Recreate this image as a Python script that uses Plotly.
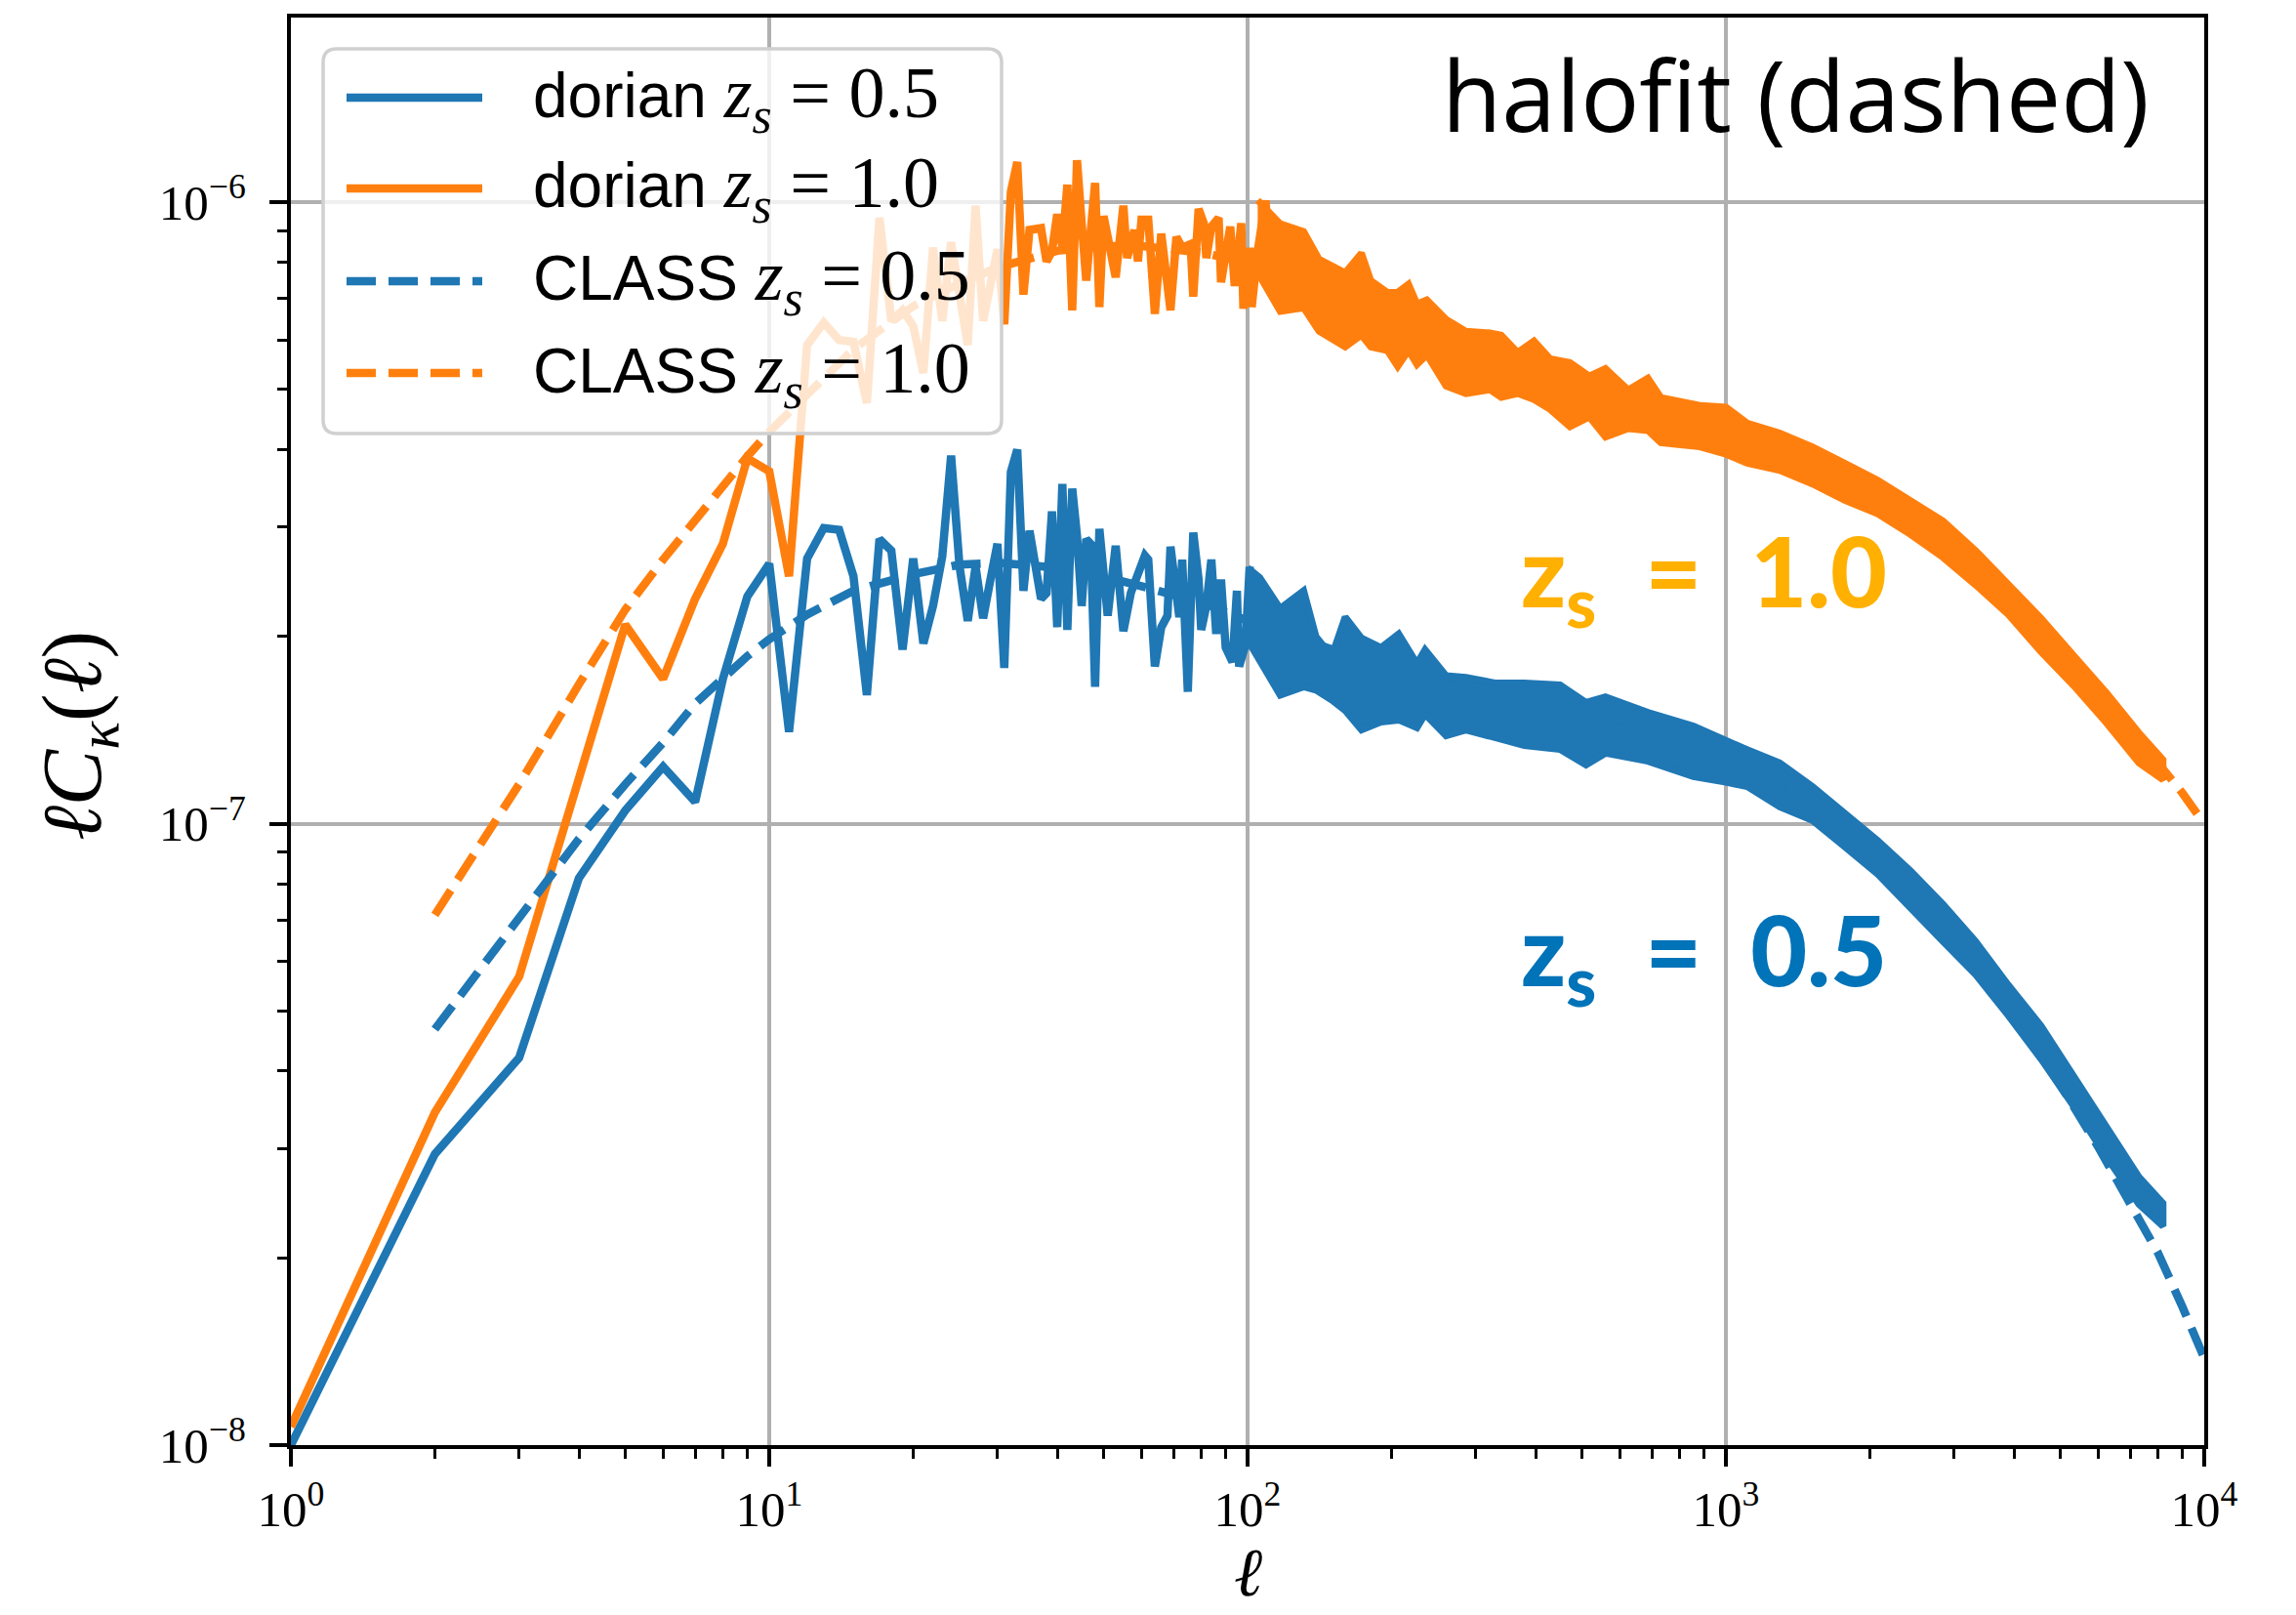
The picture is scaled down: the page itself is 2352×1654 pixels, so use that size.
import plotly.graph_objects as go

# ---------------------------------------------------------------------------
# Convergence power spectra  ell * C_kappa(ell)
# ---------------------------------------------------------------------------

# dorian, z_s = 0.5 : individual multipoles at low ell
ell_dorian_05 = [1, 2, 3, 4, 5, 6, 7, 8, 9, 10,
                 11, 12, 13, 14, 15, 16, 17, 18, 19, 20,
                 21, 22, 23, 24, 25, 26, 27, 28, 29, 30,
                 31, 32, 33, 34, 35, 36, 37, 38, 39, 40,
                 41, 42, 43, 44, 45, 46, 47, 48, 49, 51,
                 53, 55, 57, 61, 62, 64, 66, 68, 69, 72,
                 73, 75, 77, 79, 80, 82, 84, 86, 88, 90,
                 93, 95, 96, 99, 101, 103, 106, 108]
cl_dorian_05 = [1.0e-8, 2.94e-8, 4.2e-8, 8.17e-8, 1.05e-7, 1.235e-7, 1.084e-7, 1.71e-7, 2.32e-7, 2.62e-7,
                1.405e-7, 2.67e-7, 2.99e-7, 2.97e-7, 2.5e-7, 1.61e-7, 2.87e-7, 2.75e-7, 1.905e-7, 2.67e-7,
                1.95e-7, 2.24e-7, 2.69e-7, 3.91e-7, 2.59e-7, 2.12e-7, 2.59e-7, 2.14e-7, 2.47e-7, 2.82e-7,
                1.78e-7, 3.68e-7, 4.0e-7, 2.37e-7, 2.96e-7, 2.62e-7, 2.3e-7, 2.35e-7, 3.18e-7, 2.07e-7,
                3.52e-7, 2.05e-7, 3.46e-7, 2.9e-7, 2.24e-7, 2.87e-7, 2.82e-7, 1.66e-7, 2.98e-7, 2.16e-7,
                2.8e-7, 2.04e-7, 2.35e-7, 2.7e-7, 2.66e-7, 1.79e-7, 2.07e-7, 2.16e-7, 2.79e-7, 2.15e-7,
                2.66e-7, 1.63e-7, 2.94e-7, 2.47e-7, 2.05e-7, 2.24e-7, 2.66e-7, 2.02e-7, 2.47e-7, 1.92e-7,
                1.82e-7, 2.37e-7, 1.79e-7, 1.94e-7, 2.59e-7, 2.01e-7, 2.4e-7, 1.85e-7]

# dorian, z_s = 0.5 : upper / lower envelope of the dense scatter at high ell
ell_band_05 = [100, 106, 117, 131, 139, 150, 160, 173, 190, 207,
               226, 235, 260, 286, 329, 379, 450, 510, 560, 687,
               855, 1000, 1108, 1296, 1517, 1775, 2077, 2431, 2844, 3329,
               3894, 4558, 5333, 6240, 7303, 8200]
cl_band_05_hi = [2.58e-7, 2.49e-7, 2.22e-7, 2.37e-7, 2.0e-7, 1.86e-7, 2.15e-7, 1.99e-7, 1.92e-7, 2.02e-7,
                 1.81e-7, 1.905e-7, 1.73e-7, 1.72e-7, 1.684e-7, 1.684e-7, 1.672e-7, 1.567e-7, 1.6e-7, 1.51e-7,
                 1.436e-7, 1.36e-7, 1.315e-7, 1.252e-7, 1.147e-7, 1.038e-7, 9.39e-8, 8.4e-8, 7.42e-8, 6.46e-8,
                 5.5e-8, 4.73e-8, 3.93e-8, 3.26e-8, 2.7e-8, 2.45e-8]
cl_band_05_lo = [1.975e-7, 1.82e-7, 1.61e-7, 1.66e-7, 1.64e-7, 1.58e-7, 1.52e-7, 1.415e-7, 1.457e-7, 1.468e-7,
                 1.426e-7, 1.5e-7, 1.385e-7, 1.415e-7, 1.375e-7, 1.336e-7, 1.317e-7, 1.243e-7, 1.298e-7, 1.26e-7,
                 1.19e-7, 1.166e-7, 1.147e-7, 1.064e-7, 1.012e-7, 9.17e-8, 8.29e-8, 7.32e-8, 6.46e-8, 5.71e-8,
                 4.91e-8, 4.18e-8, 3.51e-8, 2.91e-8, 2.44e-8, 2.25e-8]

# dorian, z_s = 1.0 : individual multipoles at low ell
ell_dorian_10 = [1, 2, 3, 4, 5, 6, 7, 8, 9, 10,
                 11, 12, 13, 14, 15, 16, 17, 18, 19, 20,
                 21, 22, 23, 24, 26, 27, 28, 30, 31, 32,
                 33, 34, 35, 37, 38, 39, 40, 41, 42, 43,
                 44, 45, 46, 48, 49, 50, 52, 53, 55, 56,
                 58, 59, 60, 62, 64, 66, 69, 71, 73, 76,
                 77, 79, 81, 82, 84, 87, 88, 92, 94, 97,
                 98, 101, 102, 105, 109, 112]
cl_dorian_10 = [1.07e-8, 3.43e-8, 5.67e-8, 1.2e-7, 2.09e-7, 1.71e-7, 2.3e-7, 2.82e-7, 3.87e-7, 3.69e-7,
                2.5e-7, 5.89e-7, 6.4e-7, 6.0e-7, 5.96e-7, 4.75e-7, 9.44e-7, 6.44e-7, 6.7e-7, 6.32e-7,
                5.31e-7, 8.45e-7, 6.44e-7, 8.62e-7, 5.89e-7, 9.87e-7, 6.44e-7, 8.4e-7, 6.36e-7, 1.039e-6,
                1.16e-6, 7.1e-7, 9.02e-7, 9.08e-7, 8.03e-7, 8.34e-7, 9.56e-7, 8.45e-7, 1.067e-6, 6.7e-7,
                1.168e-6, 9.25e-7, 7.48e-7, 1.074e-6, 6.78e-7, 9.5e-7, 8.13e-7, 7.57e-7, 9.87e-7, 8.13e-7,
                9.02e-7, 8.03e-7, 9.37e-7, 9.37e-7, 6.61e-7, 8.9e-7, 6.7e-7, 8.79e-7, 8.45e-7, 8.56e-7,
                7.05e-7, 9.75e-7, 9.25e-7, 8.13e-7, 9.13e-7, 9.43e-7, 7.43e-7, 9.13e-7, 7.33e-7, 9.25e-7,
                6.74e-7, 8.45e-7, 6.78e-7, 8.34e-7, 1.006e-6, 7.72e-7]

# dorian, z_s = 1.0 : upper / lower envelope of the dense scatter at high ell
ell_band_10 = [105, 117, 131, 141, 160, 173, 181, 196, 206, 217,
               226, 237, 260, 286, 321, 339, 367, 397, 429, 472,
               518, 560, 625, 687, 731, 803, 882, 1000, 1108, 1296,
               1517, 1775, 2077, 2431, 2844, 3329, 3894, 4558, 5333, 6240,
               7303, 8200]
cl_band_10_hi = [1.007e-6, 9.23e-7, 8.97e-7, 8.1e-7, 7.7e-7, 8.28e-7, 7.48e-7, 7.16e-7, 7.16e-7, 7.38e-7,
                 6.86e-7, 6.96e-7, 6.48e-7, 6.2e-7, 6.16e-7, 6.11e-7, 5.73e-7, 5.98e-7, 5.6e-7, 5.52e-7,
                 5.25e-7, 5.4e-7, 4.99e-7, 5.21e-7, 4.85e-7, 4.78e-7, 4.71e-7, 4.68e-7, 4.41e-7, 4.25e-7,
                 4.04e-7, 3.8e-7, 3.57e-7, 3.31e-7, 3.07e-7, 2.75e-7, 2.42e-7, 2.14e-7, 1.865e-7, 1.626e-7,
                 1.4e-7, 1.267e-7]
cl_band_10_lo = [7.7e-7, 6.67e-7, 6.76e-7, 6.2e-7, 5.85e-7, 6.11e-7, 5.85e-7, 5.77e-7, 5.44e-7, 5.77e-7,
                 5.48e-7, 5.68e-7, 5.06e-7, 4.92e-7, 4.99e-7, 4.85e-7, 4.92e-7, 4.81e-7, 4.64e-7, 4.35e-7,
                 4.51e-7, 4.19e-7, 4.32e-7, 4.29e-7, 4.1e-7, 4.07e-7, 4.04e-7, 3.93e-7, 3.8e-7, 3.7e-7,
                 3.52e-7, 3.31e-7, 3.15e-7, 2.92e-7, 2.68e-7, 2.42e-7, 2.17e-7, 1.89e-7, 1.667e-7, 1.453e-7,
                 1.252e-7, 1.176e-7]

# CLASS (halofit) predictions
ell_class = [2, 3, 4, 5, 6, 7, 8, 9, 10, 12,
             15, 20, 25, 30, 40, 50, 60, 80, 100, 150,
             200, 300, 500, 700, 1000, 1500, 2000, 3000, 4000, 5000,
             6000, 7000, 8000, 9000, 10000]
cl_class_05 = [4.67e-8, 7.1e-8, 9.45e-8, 1.157e-7, 1.35e-7, 1.56e-7, 1.72e-7, 1.86e-7, 1.98e-7, 2.17e-7,
               2.37e-7, 2.52e-7, 2.61e-7, 2.63e-7, 2.58e-7, 2.5e-7, 2.41e-7, 2.27e-7, 2.12e-7, 1.9e-7,
               1.77e-7, 1.62e-7, 1.47e-7, 1.38e-7, 1.27e-7, 1.08e-7, 9.1e-8, 6.55e-8, 4.88e-8, 3.8e-8,
               3.02e-8, 2.46e-8, 2.04e-8, 1.67e-8, 1.38e-8]
cl_class_10 = [7.13e-8, 1.157e-7, 1.675e-7, 2.21e-7, 2.66e-7, 3.09e-7, 3.5e-7, 3.9e-7, 4.27e-7, 4.9e-7,
               5.8e-7, 6.8e-7, 7.4e-7, 7.85e-7, 8.35e-7, 8.5e-7, 8.5e-7, 8.3e-7, 8.0e-7, 7.1e-7,
               6.45e-7, 5.6e-7, 4.9e-7, 4.6e-7, 4.28e-7, 3.8e-7, 3.42e-7, 2.8e-7, 2.28e-7, 1.93e-7,
               1.65e-7, 1.43e-7, 1.26e-7, 1.12e-7, 1.0e-7]

# Axis ticks
x_tick_vals = [1, 10, 100, 1000, 10000]
x_tick_text = ["10<sup>0</sup>", "10<sup>1</sup>", "10<sup>2</sup>", "10<sup>3</sup>", "10<sup>4</sup>"]
y_tick_vals = [1e-8, 1e-7, 1e-6]
y_tick_text = ["10<sup>\u22128</sup>", "10<sup>\u22127</sup>", "10<sup>\u22126</sup>"]

# Legend entries
legend_names = ["dorian", "dorian", "CLASS", "CLASS"]
legend_z = ["0.5", "1.0", "0.5", "1.0"]

BLUE = "#1f77b4"
ORANGE = "#ff7f0e"
legend_colors = [BLUE, ORANGE, BLUE, ORANGE]
legend_dash = ["solid", "solid", "30px,13px", "30px,13px"]

LW = 8.5
DASH = "30px,13px"
SERIF = "Liberation Serif, DejaVu Serif, serif"
SANS = "Liberation Sans, Arial, sans-serif"

W, H = 2352, 1654
ML, MR, MT, MB = 298, 94, 18, 174
PW, PH = W - ML - MR, H - MT - MB


def px_to_paper(xp, yp):
    return (xp - ML) / PW, (H - MB - yp) / PH


fig = go.Figure()


def add_dorian(ell, cl, ell_b, hi, lo, color):
    fig.add_trace(go.Scatter(x=ell, y=cl, mode="lines",
                             line=dict(color=color, width=LW),
                             showlegend=False, hoverinfo="skip"))
    fig.add_trace(go.Scatter(x=ell_b + ell_b[::-1], y=hi + lo[::-1],
                             mode="lines", fill="toself", fillcolor=color,
                             line=dict(color=color, width=7),
                             showlegend=False, hoverinfo="skip"))


add_dorian(ell_dorian_05, cl_dorian_05, ell_band_05, cl_band_05_hi, cl_band_05_lo, BLUE)
add_dorian(ell_dorian_10, cl_dorian_10, ell_band_10, cl_band_10_hi, cl_band_10_lo, ORANGE)

fig.add_trace(go.Scatter(x=ell_class, y=cl_class_05, mode="lines",
                         line=dict(color=BLUE, width=LW, dash=DASH),
                         showlegend=False, hoverinfo="skip"))
fig.add_trace(go.Scatter(x=ell_class, y=cl_class_10, mode="lines",
                         line=dict(color=ORANGE, width=LW, dash=DASH),
                         showlegend=False, hoverinfo="skip"))

shapes = []
annotations = []

# Legend frame (rounded, semi-transparent)
bx0, by1 = px_to_paper(331, 50)
bx1, by0 = px_to_paper(1026, 444)
rx, ry = 14 / PW, 14 / PH
path = (f"M{bx0 + rx},{by1} L{bx1 - rx},{by1} Q{bx1},{by1} {bx1},{by1 - ry} "
        f"L{bx1},{by0 + ry} Q{bx1},{by0} {bx1 - rx},{by0} "
        f"L{bx0 + rx},{by0} Q{bx0},{by0} {bx0},{by0 + ry} "
        f"L{bx0},{by1 - ry} Q{bx0},{by1} {bx0 + rx},{by1} Z")
shapes.append(dict(type="path", xref="paper", yref="paper", path=path,
                   fillcolor="rgba(255,255,255,0.8)",
                   line=dict(color="#d0d0d0", width=3.5), layer="above"))

row_y = [100, 193, 288, 382]
for name, z, col, dash, ry_px in zip(legend_names, legend_z, legend_colors, legend_dash, row_y):
    lx0, ly = px_to_paper(355, ry_px)
    lx1, _ = px_to_paper(494, ry_px)
    shapes.append(dict(type="line", xref="paper", yref="paper",
                       x0=lx0, x1=lx1, y0=ly, y1=ly, layer="above",
                       line=dict(color=col, width=LW, dash=dash)))
    tx, ty = px_to_paper(544, ry_px)
    annotations.append(dict(
        xref="paper", yref="paper", x=tx, y=ty, xanchor="left", yanchor="middle",
        showarrow=False,
        text=(f"{name} <span style='font-family:{SERIF};font-size:74px'>"
              f"<i>z</i><sub><i>s</i></sub> = {z}</span>"),
        font=dict(family=SANS, size=64, color="black")))

# Title-like label in the upper right
tx, ty = px_to_paper(2204, 96)
annotations.append(dict(xref="paper", yref="paper", x=tx, y=ty,
                        xanchor="right", yanchor="middle", showarrow=False,
                        text="halofit (dashed)",
                        font=dict(family="Open Sans, Lato, sans-serif", size=100, color="black")))

# Redshift labels
for label, col, ypx in [("1.0", "#ffb000", 590), ("0.5", "#0173b8", 978)]:
    tx, ty = px_to_paper(1556, ypx)
    annotations.append(dict(xref="paper", yref="paper", x=tx, y=ty,
                            xanchor="left", yanchor="middle", showarrow=False,
                            text=f"z<sub>s</sub>\u2002=\u2002{label}",
                            font=dict(family="Lato, sans-serif", size=100, color=col,
                                      weight=900)))

# Axis titles
tx, ty = px_to_paper(80, 754)
annotations.append(dict(xref="paper", yref="paper", x=tx, y=ty, textangle=-90,
                        xanchor="center", yanchor="middle", showarrow=False,
                        text="<i>\u2113C</i><sub><i>\u03ba</i></sub>(<i>\u2113</i>)",
                        font=dict(family=SERIF, size=86, color="black")))
tx, ty = px_to_paper(ML + PW / 2, 1610)
annotations.append(dict(xref="paper", yref="paper", x=tx, y=ty,
                        xanchor="center", yanchor="middle", showarrow=False,
                        text="<i>\u2113</i>",
                        font=dict(family=SERIF, size=70, color="black")))

x_minor = [m * 10 ** d for d in range(4) for m in range(2, 10)]
y_minor = [m * 10.0 ** d for d in (-8, -7) for m in range(2, 10)]

axis_common = dict(type="log", ticks="outside", ticklen=18, tickwidth=4, tickcolor="black",
                   showline=True, linecolor="black", linewidth=4, mirror=True,
                   showgrid=True, gridcolor="#b0b0b0", gridwidth=4, zeroline=False,
                   tickmode="array",
                   tickfont=dict(family=SERIF, size=51, color="black"))

fig.update_layout(
    width=W, height=H, autosize=False,
    margin=dict(l=ML, r=MR, t=MT, b=MB, pad=0),
    paper_bgcolor="white", plot_bgcolor="white",
    showlegend=False,
    xaxis=dict(axis_common, range=[0, 4], tickvals=x_tick_vals, ticktext=x_tick_text,
               ticklabelstandoff=0,
               minor=dict(tickvals=x_minor, ticks="outside", ticklen=10, tickwidth=3,
                          tickcolor="black", showgrid=False)),
    yaxis=dict(axis_common, range=[-8, -5.703], tickvals=y_tick_vals, ticktext=y_tick_text,
               ticklabelstandoff=14,
               minor=dict(tickvals=y_minor, ticks="outside", ticklen=10, tickwidth=3,
                          tickcolor="black", showgrid=False)),
    shapes=shapes,
    annotations=annotations,
)

fig.write_html("out.html")
